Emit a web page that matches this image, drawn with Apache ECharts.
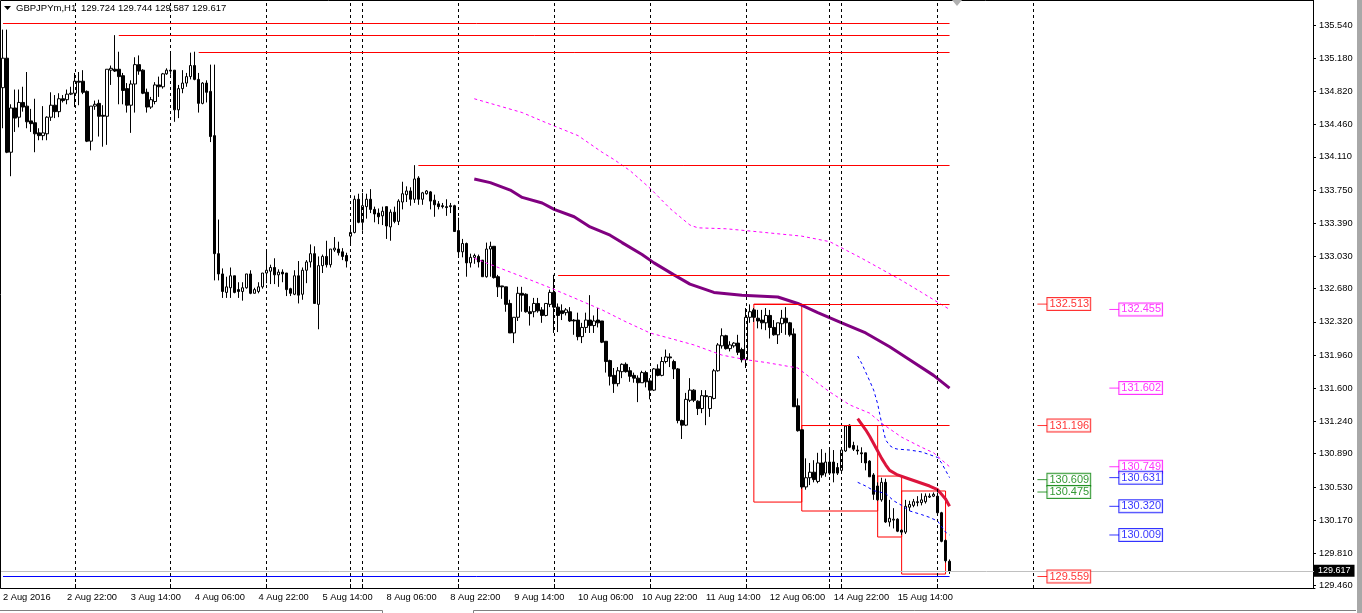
<!DOCTYPE html>
<html><head><meta charset="utf-8">
<script src="https://cdn.jsdelivr.net/npm/echarts@6/dist/echarts.min.js"></script>
<style>html,body{margin:0;padding:0;background:#fff;overflow:hidden}#c{width:1362px;height:613px}</style>
</head><body><div id="c"></div>
<script>
// ---------- data ----------
const symbolTitle = 'GBPJPYm,H1';
const titleOHLC = '129.724 129.744 129.587 129.617';
// trading sessions: [day, first hour, number of hourly bars]
const sessions = [['2 Aug',6,18],['3 Aug',0,24],['4 Aug',0,24],['5 Aug',0,21],['7 Aug',21,3],['8 Aug',0,24],['9 Aug',0,24],['10 Aug',0,24],['11 Aug',0,24],['12 Aug',0,21],['14 Aug',21,3],['15 Aug',0,24],['16 Aug',0,24],['17 Aug',0,24],['18 Aug',0,24],['19 Aug',0,23]];
const separatorDays = ['3 Aug','4 Aug','5 Aug','7 Aug','8 Aug','9 Aug','10 Aug','11 Aug','12 Aug','14 Aug','15 Aug','16 Aug','17 Aug'];
const xTickLabels = ['2 Aug 2016','2 Aug 22:00','3 Aug 14:00','4 Aug 06:00','4 Aug 22:00','5 Aug 14:00','8 Aug 06:00','8 Aug 22:00','9 Aug 14:00','10 Aug 06:00','10 Aug 22:00','11 Aug 14:00','12 Aug 06:00','14 Aug 22:00','15 Aug 14:00'];
const yTickValues = [135.540,135.180,134.820,134.460,134.110,133.750,133.390,133.030,132.680,132.320,131.960,131.600,131.240,130.890,130.530,130.170,129.810,129.460];
// [open, close, low, high]
const candles = [
[134.86,135.18,134.42,135.49],[135.18,134.16,134.15,135.49],[134.16,134.64,133.90,134.68],[134.64,134.53,134.38,134.84],
[134.54,134.70,134.43,134.84],[134.70,134.65,134.60,134.87],[134.66,134.49,134.42,135.03],[134.50,134.47,134.38,134.63],
[134.48,134.36,134.16,134.74],[134.37,134.34,134.29,134.42],[134.34,134.37,134.29,134.66],[134.36,134.54,134.29,134.55],
[134.54,134.67,134.50,134.81],[134.67,134.60,134.53,134.78],[134.60,134.74,134.54,134.80],[134.74,134.72,134.70,134.78],
[134.73,134.79,134.68,134.84],[134.79,134.80,134.78,134.87],
[134.80,134.93,134.65,135.02],[134.93,134.92,134.67,135.03],[134.93,134.81,134.79,135.05],[134.82,134.28,134.27,134.83],
[134.28,134.66,134.18,134.66],[134.66,134.68,134.62,134.72],[134.69,134.55,134.33,134.73],[134.56,134.55,134.22,134.67],
[134.55,135.06,134.24,135.06],[135.05,135.07,134.89,135.10],[135.06,135.04,135.03,135.43],[135.06,134.98,134.68,135.25],
[134.99,134.83,134.68,135.02],[134.85,134.67,134.59,134.91],[134.67,134.90,134.37,134.94],[134.90,135.11,134.59,135.19],
[135.11,135.04,135.00,135.21],[135.05,134.80,134.79,135.06],[134.81,134.65,134.59,134.85],[134.65,134.73,134.63,134.76],
[134.71,134.89,134.68,134.92],[134.89,134.87,134.76,134.98],[134.87,135.01,134.85,135.02],[135.01,135.05,135.00,135.07],
[135.04,135.05,135.00,135.23],[135.05,134.62,134.49,135.05],[134.62,134.85,134.53,134.89],[134.85,134.91,134.80,135.05],
[134.91,134.98,134.87,135.02],[134.98,135.10,134.95,135.24],[135.10,134.95,134.94,135.25],[134.95,134.69,134.59,135.02],
[134.69,134.91,134.68,134.92],[134.91,134.81,134.70,134.94],[134.82,134.33,134.27,135.11],[134.34,133.06,132.77,135.11],
[133.06,132.84,132.77,133.43],[132.84,132.65,132.58,132.90],[132.64,132.70,132.58,132.81],[132.69,132.82,132.58,132.91],
[132.82,132.64,132.63,132.82],[132.67,132.65,132.58,132.75],[132.65,132.69,132.55,132.75],[132.69,132.84,132.68,132.84],
[132.84,132.63,132.62,132.88],[132.63,132.67,132.63,132.69],[132.65,132.70,132.63,132.75],[132.70,132.85,132.68,132.85],
[132.85,132.88,132.74,133.08],[132.87,132.91,132.73,132.94],[132.91,132.83,132.73,133.01],[132.83,132.86,132.70,132.89],
[132.86,132.84,132.75,132.89],[132.85,132.67,132.60,132.85],[132.68,132.63,132.60,132.69],[132.62,132.82,132.61,132.88],
[132.82,132.61,132.52,132.98],[132.62,132.88,132.56,132.91],[132.88,132.97,132.74,132.99],[132.97,133.06,132.91,133.16],
[133.06,132.52,132.52,133.14],[132.51,132.93,132.24,133.03],[132.93,133.03,132.85,133.05],[133.03,132.94,132.91,133.20],
[132.94,133.11,132.91,133.11],[133.10,133.12,133.08,133.24],[133.11,133.07,133.04,133.19],[133.08,133.03,132.99,133.12],
[133.04,132.98,132.91,133.07],
[133.25,133.29,133.16,133.37],[133.29,133.65,133.28,133.69],[133.65,133.40,133.39,133.71],
[133.40,133.58,133.31,133.72],[133.57,133.65,133.44,133.71],[133.65,133.54,133.50,133.76],[133.54,133.49,133.40,133.57],
[133.50,133.46,133.38,133.55],[133.47,133.52,133.37,133.57],[133.57,133.36,133.22,133.57],[133.35,133.51,133.20,133.54],
[133.51,133.41,133.39,133.57],[133.41,133.63,133.37,133.65],[133.62,133.71,133.54,133.84],[133.70,133.74,133.62,133.79],
[133.74,133.65,133.58,133.78],[133.65,133.87,133.61,134.02],[133.88,133.65,133.59,133.90],[133.65,133.72,133.59,133.73],
[133.71,133.74,133.70,133.75],[133.73,133.63,133.54,133.74],[133.64,133.59,133.46,133.70],[133.60,133.57,133.54,133.63],
[133.58,133.57,133.55,133.61],[133.57,133.56,133.47,133.65],[133.58,133.57,133.50,133.61],[133.58,133.30,133.30,133.59],
[133.31,133.08,133.02,133.45],[133.08,133.17,133.02,133.22],[133.17,132.96,132.81,133.18],[132.96,133.02,132.91,133.06],
[133.02,133.04,132.95,133.06],[133.03,132.97,132.91,133.05],[132.99,132.81,132.81,132.99],[132.81,133.11,132.80,133.18],
[133.11,133.14,132.81,133.19],[133.14,132.80,132.79,133.14],[132.81,132.70,132.59,132.83],[132.71,132.70,132.57,132.71],
[132.70,132.51,132.43,132.70],[132.52,132.20,132.20,132.56],[132.20,132.37,132.09,132.37],[132.37,132.63,132.33,132.70],
[132.63,132.61,132.43,132.70],[132.62,132.43,132.42,132.63],[132.43,132.41,132.28,132.49],[132.43,132.52,132.37,132.58],
[132.52,132.44,132.42,132.58],[132.45,132.39,132.31,132.48],[132.39,132.52,132.38,132.52],[132.51,132.64,132.48,132.67],
[132.64,132.48,132.20,132.83],[132.48,132.39,132.21,132.52],[132.44,132.41,132.34,132.51],[132.42,132.45,132.39,132.47],
[132.43,132.33,132.32,132.48],[132.34,132.33,132.18,132.35],[132.34,132.16,132.12,132.42],[132.16,132.26,132.09,132.31],
[132.26,132.34,132.20,132.42],[132.34,132.28,132.20,132.61],[132.28,132.33,132.20,132.39],[132.34,132.31,132.26,132.47],
[132.33,132.10,132.09,132.33],[132.11,131.89,131.77,132.11],[131.90,131.73,131.63,131.91],[131.74,131.65,131.55,131.82],
[131.65,131.79,131.62,131.83],[131.78,131.86,131.71,131.87],[131.86,131.78,131.77,131.88],[131.79,131.73,131.67,131.83],
[131.74,131.71,131.66,131.77],[131.71,131.66,131.45,131.74],[131.66,131.77,131.66,131.79],[131.77,131.67,131.61,131.79],
[131.68,131.58,131.48,131.71],[131.58,131.81,131.57,131.82],[131.81,131.74,131.73,131.86],[131.74,131.89,131.73,131.94],
[131.89,131.94,131.87,132.02],[131.94,131.93,131.83,131.98],[131.89,131.81,131.70,131.91],[131.81,131.25,131.22,131.82],
[131.25,131.20,131.05,131.26],[131.20,131.48,131.19,131.55],[131.47,131.58,131.45,131.71],[131.58,131.47,131.45,131.59],
[131.46,131.38,131.31,131.47],[131.38,131.52,131.33,131.58],[131.52,131.51,131.20,131.58],[131.38,131.51,131.29,131.51],
[131.49,131.79,131.48,131.81],[131.79,132.07,131.78,132.09],[132.06,132.17,132.03,132.25],[132.17,132.03,132.02,132.18],
[132.03,132.07,132.00,132.11],[132.06,132.09,132.04,132.10],[132.09,131.99,131.96,132.18],[132.02,131.91,131.88,132.04],
[131.91,132.37,131.82,132.47],[132.37,132.43,132.31,132.51],[132.45,132.37,132.32,132.47],[132.36,132.33,132.25,132.45],
[132.34,132.31,132.24,132.45],[132.31,132.39,132.23,132.47],[132.39,132.26,132.14,132.45],[132.26,132.18,132.17,132.34],
[132.18,132.31,132.08,132.31],[132.30,132.36,132.20,132.45],[132.36,132.31,132.18,132.48],[132.31,132.18,132.16,132.32],
[132.19,131.40,131.40,132.25],[131.41,131.14,131.13,131.49],[131.15,130.53,130.51,131.15],[130.53,130.63,130.50,130.84],
[130.63,130.69,130.55,130.79],[130.69,130.61,130.58,130.82],[130.59,130.79,130.57,130.90],[130.79,130.66,130.63,130.94],
[130.68,130.80,130.64,130.90],
[130.80,130.68,130.66,130.93],[130.80,130.68,130.58,130.93],[130.74,130.68,130.66,130.79],
[130.71,130.93,130.69,130.93],[130.92,131.19,130.91,131.19],[131.20,130.96,130.95,131.21],[130.98,130.94,130.92,131.02],
[130.93,130.92,130.88,130.98],[130.90,130.89,130.79,130.96],[130.90,130.79,130.71,130.90],[130.81,130.64,130.64,130.82],
[130.66,130.45,130.39,130.68],[130.54,130.39,130.38,130.58],[130.39,130.58,130.37,130.63],[130.58,130.15,130.14,130.62],
[130.15,130.19,130.10,130.39],[130.17,130.18,130.08,130.30],[130.18,130.05,130.04,130.19],[130.06,130.04,130.01,130.07],
[130.04,130.32,130.02,130.39],[130.31,130.34,130.27,130.38],[130.33,130.37,130.31,130.40],[130.36,130.37,130.32,130.43],
[130.36,130.39,130.33,130.46],[130.37,130.43,130.35,130.46],[130.42,130.43,130.41,130.46],[130.43,130.45,130.42,130.47],
[130.43,130.25,130.24,130.47],[130.25,129.94,129.93,130.26],[129.95,129.73,129.71,129.96],[129.724,129.617,129.587,129.744]
];
// indicator lines: [bar index, price]
const maSlow = [[118,133.87],[122,133.83],[127,133.75],[130,133.67],[135,133.61],[138,133.54],[143,133.46],[147,133.35],[152,133.26],[155,133.18],[160,133.05],[163,132.96],[168,132.83],[172,132.73],[174,132.70],[178,132.64],[185,132.61],[194,132.59],[199,132.52],[204,132.42],[210,132.31],[216,132.20],[222,132.05],[227,131.91],[233,131.74],[237,131.602]];
const envUpper = [[118,134.74],[130,134.59],[136,134.48],[144,134.34],[150,134.16],[153,134.08],[157,133.96],[162,133.77],[167,133.55],[172,133.37],[174,133.34],[181,133.33],[186,133.31],[200,133.25],[207,133.19],[215,133.01],[225,132.77],[230,132.64],[237,132.455]];
const envLower = [[118,133.01],[124,132.91],[130,132.81],[137,132.69],[143,132.58],[150,132.45],[156,132.32],[162,132.20],[168,132.13],[173,132.07],[180,131.96],[186,131.91],[191,131.88],[199,131.82],[202,131.72],[207,131.56],[212,131.42],[217,131.33],[220,131.22],[225,131.07],[230,130.96],[233,130.90],[237,130.749]];
const maFast = [[214,131.27],[216,131.15],[217,131.08],[219,130.92],[220,130.84],[221,130.77],[222,130.71],[224,130.66],[226,130.63],[228,130.60],[230,130.57],[232,130.54],[234,130.50],[235,130.45],[236,130.40],[237,130.320]];
const bandUpper = [[214,131.95],[215,131.87],[217,131.68],[218,131.58],[219,131.43],[220,131.22],[221,131.04],[222,130.98],[223,130.95],[224,130.94],[227,130.93],[230,130.91],[232,130.88],[234,130.85],[235,130.79],[236,130.71],[237,130.631]];
const bandLower = [[214,130.58],[216,130.54],[218,130.49],[221,130.46],[223,130.38],[225,130.33],[227,130.27],[230,130.23],[232,130.20],[234,130.16],[235,130.10],[236,130.04],[237,130.009]];
// horizontal levels: [price, from bar, to bar]
const redLevels = [[135.562,0,237],[135.431,29,237],[135.247,49,237],[134.021,104,237],[132.828,139,237],[132.513,188,237],[131.196,200,237]];
const blueLevel = [129.559,0,237];
const lastPrice = 129.617;
// boxes: [from bar, to bar, top price, bottom price]
const boxes = [[188,200,132.513,130.366],[200,219,131.196,130.269],[219,225,130.648,129.987],[225,236,130.486,129.585]];
// price tags: [price, colour]
const tagsLeft = [[132.513,'#ff0000'],[131.196,'#ff0000'],[130.609,'#008000'],[130.475,'#008000'],[129.559,'#ff0000']];
const tagsRight = [[132.455,'#ff00ff'],[131.602,'#ff00ff'],[130.749,'#ff00ff'],[130.631,'#0000ff'],[130.320,'#0000ff'],[130.009,'#0000ff']];
const tagBarLeft = 259, tagBarRight = 277;

// ---------- build ----------
const cats = [];
const sepIdx = [];
sessions.forEach((s) => {
  if (separatorDays.includes(s[0])) sepIdx.push(cats.length);
  for (let h = 0; h < s[2]; h++) {
    const hh = s[1] + h;
    cats.push(s[0] + ' ' + String(hh).padStart(2,'0') + ':00');
  }
});
const nBars = candles.length;
const sepSet = new Set(sepIdx);
const FONT = '"Liberation Sans", Arial, sans-serif';

const chart = echarts.init(document.getElementById('c'), null, {renderer:'canvas'});

const markLines = [];
sepIdx.forEach(i => markLines.push({xAxis: cats[i], lineStyle:{color:'#000', type:[3,3], width:1}}));
redLevels.forEach(l => markLines.push([{coord:[cats[l[1]], l[0]], lineStyle:{color:'#ff0000', type:'solid', width:1}}, {coord:[cats[l[2]], l[0]]}]));
markLines.push([{coord:[cats[blueLevel[1]], blueLevel[0]], lineStyle:{color:'#0000ff', type:'solid', width:1}}, {coord:[cats[blueLevel[2]], blueLevel[0]]}]);
markLines.push({yAxis:lastPrice, lineStyle:{color:'#c0c0c0', type:'solid', width:1},
  label:{show:true, position:'end', formatter: lastPrice.toFixed(3), color:'#fff', backgroundColor:'#000', padding:[2,4,1,4], fontSize:9, fontFamily:FONT, distance:-1}});

const markAreas = boxes.map(b => [{xAxis:cats[b[0]], yAxis:b[2]}, {xAxis:cats[b[1]], yAxis:b[3]}]);

function tagSeries(list, bar) {
  return {
    type:'scatter', silent:true, z:5,
    symbol:'rect', symbolSize:[10,1], symbolOffset:[5,0],
    data: list.map(t => ({
      value:[bar, t[0]],
      itemStyle:{color:t[1]},
      label:{show:true, position:'right', distance:0, formatter:t[0].toFixed(3), color:t[1],
        borderColor:t[1], borderWidth:1, backgroundColor:'#fff', padding:[1,1,0,2], fontSize:11, lineHeight:11, fontFamily:FONT}
    }))
  };
}
function lineSeries(data, color, width, type) {
  return {type:'line', data, showSymbol:false, symbol:'none', silent:true, z:3,
    lineStyle:{color, width, type}, itemStyle:{color}};
}

chart.setOption({
  animation:false,
  backgroundColor:'#fff',
  grid:{left:-1, top:0, width:1316, height:588},
  xAxis:{type:'category', data:cats, boundaryGap:true,
    axisLine:{show:true, lineStyle:{color:'#000', width:1}},
    axisTick:{show:true, interval:(i)=>sepSet.has(i) && i < nBars, alignWithLabel:true, inside:true, length:4, lineStyle:{color:'#000'}},
    axisLabel:{interval:(i)=> i % 16 === 0 && i < nBars, formatter:(v,i)=> xTickLabels[Math.round(i/16)] || '',
      align:'left', margin:5, fontSize:9.3, color:'#000', fontFamily:FONT},
    splitLine:{show:false}},
  yAxis:{type:'value', position:'right', offset:-2, min:129.434, max:135.811, scale:true,
    axisLine:{show:true, lineStyle:{color:'#000', width:1}},
    axisTick:{show:true, customValues:yTickValues, length:3, lineStyle:{color:'#000'}},
    axisLabel:{customValues:yTickValues, formatter:(v)=>v.toFixed(3), fontSize:9.3, color:'#000', margin:6, fontFamily:FONT},
    splitLine:{show:false}},
  graphic:[
    {type:'rect', silent:true, z:-1, shape:{x:0.5, y:0.5, width:1313, height:588}, style:{fill:'none', stroke:'#000', lineWidth:1}},
    {type:'polygon', silent:true, shape:{points:[[4,6],[11,6],[7.5,10]]}, style:{fill:'#000'}},
    {type:'text', silent:true, left:16, top:3, style:{text:symbolTitle, fontSize:9.5, fontFamily:FONT, fill:'#000'}},
    {type:'text', silent:true, left:81, top:3, style:{text:titleOHLC, fontSize:9.5, fontFamily:FONT, fill:'#000'}},
    {type:'polygon', silent:true, shape:{points:[[952,0],[962,0],[957,6]]}, style:{fill:'#b0b0b0'}},
    {type:'rect', silent:true, shape:{x:1357, y:0, width:5, height:613}, style:{fill:'#a8a8a8'}},
    {type:'polyline', silent:true, shape:{points:[[0,610.5],[382.5,610.5],[382.5,613]]}, style:{stroke:'#808080', lineWidth:1, fill:'none'}},
    {type:'polyline', silent:true, shape:{points:[[473.5,613],[473.5,610.5],[1356,610.5]]}, style:{stroke:'#808080', lineWidth:1, fill:'none'}}
  ],
  series:[
    {type:'candlestick', data:candles, barWidth:3, z:2, silent:true,
      itemStyle:{color:'#fff', color0:'#000', borderColor:'#000', borderColor0:'#000', borderWidth:1},
      markLine:{silent:true, symbol:'none', label:{show:false}, data:markLines, animation:false},
      markArea:{silent:true, itemStyle:{color:'rgba(0,0,0,0)', borderColor:'#ff0000', borderWidth:1}, data:markAreas}
    },
    lineSeries(maSlow, '#800080', 3, 'solid'),
    lineSeries(envUpper, '#ff00ff', 1, [3,3]),
    lineSeries(envLower, '#ff00ff', 1, [3,3]),
    lineSeries(maFast, '#dc143c', 3, 'solid'),
    lineSeries(bandUpper, '#0000ff', 1, [3,3]),
    lineSeries(bandLower, '#0000ff', 1, [3,3]),
    tagSeries(tagsLeft, tagBarLeft),
    tagSeries(tagsRight, tagBarRight)
  ]
});
</script></body></html>
